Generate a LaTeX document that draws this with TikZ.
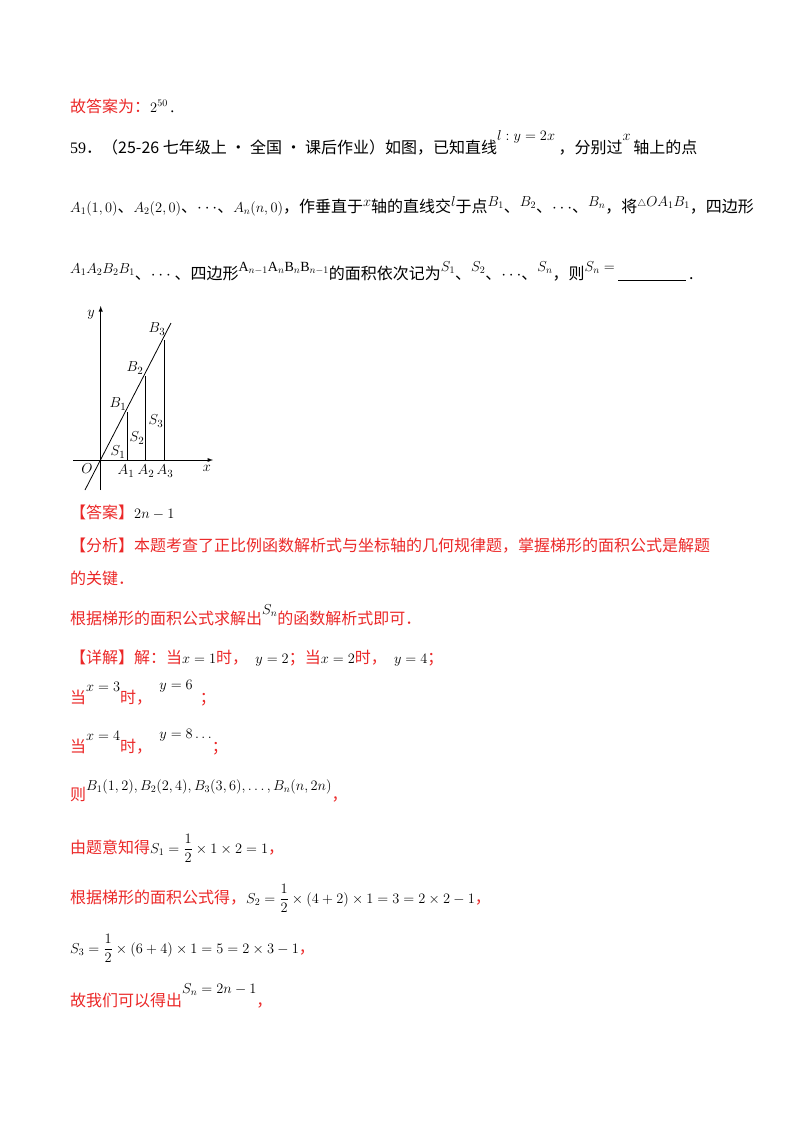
\documentclass[tikz,border=0pt]{standalone}
\usepackage{fontspec}
\setmainfont{Liberation Serif}
\newfontfamily\zh{Noto Sans CJK SC}
\definecolor{ansred}{RGB}{235,40,40}
\newcommand{\up}[2][7pt]{\raisebox{#1}{\fontsize{14}{15}\selectfont$#2$}}
\newcommand{\fr}{\displaystyle\frac12}
\begin{document}
\begin{tikzpicture}[x=1pt,y=-1pt,
  ln/.style={anchor=base west,inner sep=0,font=\fontsize{16}{18}\selectfont},
  lab/.style={inner sep=0,font=\fontsize{15}{16}\selectfont},
  ax/.style={line width=0.9pt,-latex},
  seg/.style={line width=0.8pt}]
\useasboundingbox (0,0) rectangle (800,1132);
\node[ln] (l0) at (70,112) {\textcolor{ansred}{\zh 故答案为：}\up[0pt]{2^{50}}\,.};
\node[ln] (l1) at (70,153) {59{\zh ．}\zh（25-26 七年级上 • 全国 • 课后作业）如图，已知直线\up[13pt]{l:y=2x}\ ，分别过\up[13pt]{x}\,轴上的点};
\node[ln] (l2) at (70,212) {\up[0pt]{A_1(1,0)}\zh、\up[0pt]{A_2(2,0)}\zh、$\cdots$\zh、\up[0pt]{A_n(n,0)}\zh，作垂直于\up[6pt]{x}\zh 轴的直线交\up[6pt]{l}\zh 于点\up[6pt]{B_1}\zh、\up[6pt]{B_2}\zh、$\cdots$\zh、\up[6pt]{B_n}\zh，将\up[6pt]{{\scriptstyle\triangle} OA_1B_1}\zh，四边形};
\node[ln] (l3) at (70,279) {\up[6pt]{A_1A_2B_2B_1}\zh、$\cdots$\ \zh 、四边形\up[8pt]{\mathrm{A}_{n-1}\mathrm{A}_n\mathrm{B}_n\mathrm{B}_{n-1}}\zh 的面积依次记为\up[8pt]{S_1}\zh、\up[8pt]{S_2}\zh、$\cdots$\zh、\up[8pt]{S_n}\zh，则\up[8pt]{S_n=}\ \underline{\hspace{68pt}}\,.};
% figure
\coordinate (O) at (100.7,460);
\coordinate (yb) at (100.7,490);
\coordinate (yt) at (100.7,306);
\coordinate (xl) at (73,460);
\coordinate (xr) at (213,460);
\coordinate (L0) at (85,490);
\coordinate (L1) at (171,323);
\coordinate (A1) at (127,460);
\coordinate (A2) at (145,460);
\coordinate (A3) at (164,460);
\coordinate (B1) at (127,412);
\coordinate (B2) at (145,376);
\coordinate (B3) at (164,340);
\draw[ax] (yb) -- (yt);
\draw[ax] (xl) -- (xr);
\draw[seg] (L0) -- (L1);
\draw[seg] (A1) -- (B1);
\draw[seg] (A2) -- (B2);
\draw[seg] (A3) -- (B3);
\node[lab] (ly) at (91,315) {$y$};
\node[lab] (lx) at (207,468) {$x$};
\node[lab] (lO) at (87,469) {$O$};
\node[lab] (la1) at (126,471) {$A_1$};
\node[lab] (la2) at (146,471) {$A_2$};
\node[lab] (la3) at (165,471) {$A_3$};
\node[lab] (lb1) at (118,404) {$B_1$};
\node[lab] (lb2) at (135,368) {$B_2$};
\node[lab] (lb3) at (157,329) {$B_3$};
\node[lab] (ls1) at (118,452) {$S_1$};
\node[lab] (ls2) at (137,438) {$S_2$};
\node[lab] (ls3) at (156,421) {$S_3$};
% answer
\node[ln] (l4) at (70,518) {\textcolor{ansred}{\zh 【答案】}\up[0pt]{2n-1}};
\node[ln,text=ansred] (l5) at (70,551) {\zh 【分析】本题考查了正比例函数解析式与坐标轴的几何规律题，掌握梯形的面积公式是解题};
\node[ln,text=ansred] (l6) at (70,584) {\zh 的关键．};
\node[ln,text=ansred] (l7) at (70,624) {\zh 根据梯形的面积公式求解出\textcolor{black}{\up[10pt]{S_n}}\zh 的函数解析式即可．};
\node[ln,text=ansred] (l8) at (70,663) {\zh 【详解】解：当\textcolor{black}{\up[0pt]{x=1}}\zh 时，\ \ \textcolor{black}{\up[0pt]{y=2}}\zh ；当\textcolor{black}{\up[0pt]{x=2}}\zh 时，\ \ \textcolor{black}{\up[0pt]{y=4}}\zh ；};
\node[ln,text=ansred] (l9) at (70,703) {\zh 当\textcolor{black}{\up[12pt]{x=3}}\zh 时，\ \ \textcolor{black}{\up[14pt]{y=6}}\ \ \zh ；};
\node[ln,text=ansred] (l10) at (70,752) {\zh 当\textcolor{black}{\up[12pt]{x=4}}\zh 时，\ \ \textcolor{black}{\up[14pt]{y=8\ldots}}\zh ；};
\node[ln,text=ansred] (l11) at (70,800) {\zh 则\textcolor{black}{\up[10pt]{B_1(1,2),B_2(2,4),B_3(3,6),\ldots,B_n(n,2n)}}\zh ，};
\node[ln,text=ansred] (l12) at (70,853) {\zh 由题意知得\textcolor{black}{\up[0pt]{S_1=\fr\times1\times2=1}}\zh ，};
\node[ln,text=ansred] (l13) at (70,903) {\zh 根据梯形的面积公式得，\textcolor{black}{\up[0pt]{S_2=\fr\times(4+2)\times1=3=2\times2-1}}\zh ，};
\node[ln,text=ansred] (l14) at (70,953) {\textcolor{black}{\up[0pt]{S_3=\fr\times(6+4)\times1=5=2\times3-1}}\zh ，};
\node[ln,text=ansred] (l15) at (70,1006) {\zh 故我们可以得出\textcolor{black}{\up[13pt]{S_n=2n-1}}\zh ，};
\end{tikzpicture}
\end{document}
